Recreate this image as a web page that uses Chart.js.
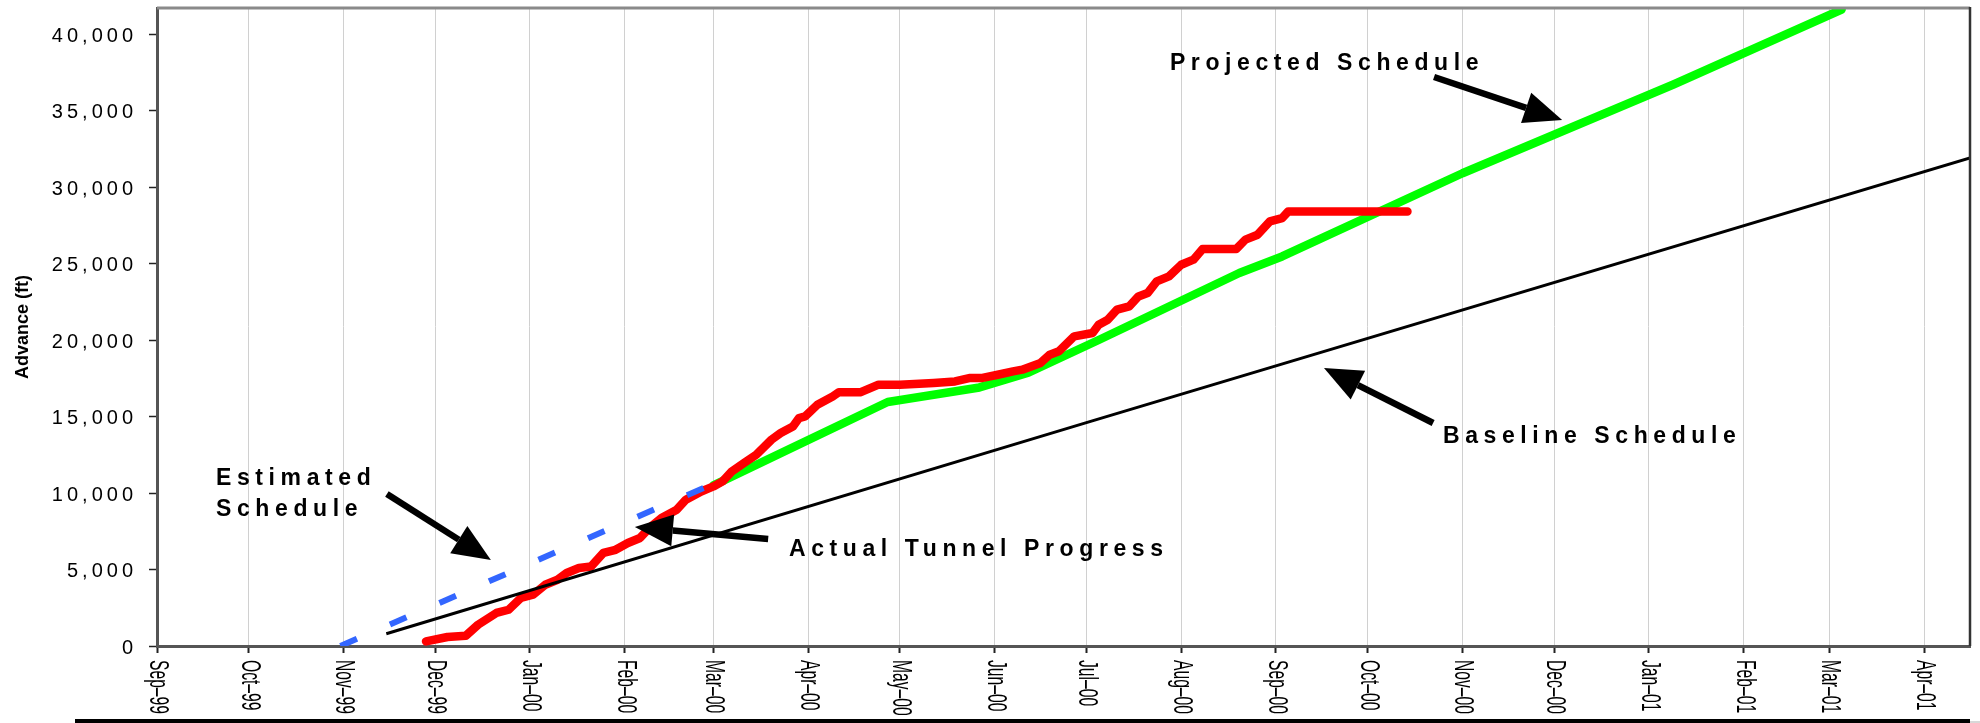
<!DOCTYPE html>
<html>
<head>
<meta charset="utf-8">
<script src="https://cdn.jsdelivr.net/npm/chart.js@4.4.6/dist/chart.umd.min.js"></script>
<style>
    html, body { margin: 0; padding: 0; background: #fff; }
    #graficaAvance { display: block; }
</style>
</head>
<body>
<canvas id="graficaAvance" width="1980" height="723"></canvas>
<script>
// eje x: dias contados desde el 1 de septiembre de 1999
const inicioEje = Date.UTC(1999, 8, 1);
function dias(fecha) {
    const [a, m, d] = fecha.split('-').map(Number);
    return (Date.UTC(a, m - 1, d) - inicioEje) / 86400000;
}

const mesesEtiquetas = ['Sep–99', 'Oct–99', 'Nov–99', 'Dec–99', 'Jan–00', 'Feb–00', 'Mar–00', 'Apr–00', 'May–00', 'Jun–00',
    'Jul–00', 'Aug–00', 'Sep–00', 'Oct–00', 'Nov–00', 'Dec–00', 'Jan–01', 'Feb–01', 'Mar–01', 'Apr–01'];
const mesesFechas = ['1999-09-01', '1999-10-01', '1999-11-01', '1999-12-01', '2000-01-01', '2000-02-01', '2000-03-01',
    '2000-04-01', '2000-05-01', '2000-06-01', '2000-07-01', '2000-08-01', '2000-09-01', '2000-10-01', '2000-11-01',
    '2000-12-01', '2001-01-01', '2001-02-01', '2001-03-01', '2001-04-01'];
const yTicks = [0, 5000, 10000, 15000, 20000, 25000, 30000, 35000, 40000];

// Actual Tunnel Progress
const actualFechas = ['1999-11-28', '1999-12-05', '1999-12-11', '1999-12-15', '1999-12-21', '1999-12-25', '1999-12-29',
    '2000-01-02', '2000-01-06', '2000-01-10', '2000-01-13', '2000-01-17', '2000-01-21', '2000-01-25', '2000-01-29',
    '2000-02-02', '2000-02-06', '2000-02-09', '2000-02-13', '2000-02-18', '2000-02-21', '2000-02-26', '2000-03-01',
    '2000-03-04', '2000-03-07', '2000-03-11', '2000-03-15', '2000-03-20', '2000-03-23', '2000-03-27', '2000-03-29',
    '2000-03-31', '2000-04-04', '2000-04-09', '2000-04-11', '2000-04-18', '2000-04-24', '2000-05-01', '2000-05-12',
    '2000-05-19', '2000-05-24', '2000-05-28', '2000-06-02', '2000-06-07', '2000-06-10', '2000-06-16', '2000-06-19',
    '2000-06-22', '2000-06-27', '2000-07-03', '2000-07-05', '2000-07-08', '2000-07-11', '2000-07-15', '2000-07-18',
    '2000-07-21', '2000-07-24', '2000-07-28', '2000-08-01', '2000-08-05', '2000-08-08', '2000-08-19', '2000-08-22',
    '2000-08-26', '2000-08-30', '2000-09-03', '2000-09-05', '2000-10-14'];
const actualPies = [300, 590, 670, 1390, 2160, 2370, 3140,
    3350, 4000, 4330, 4770, 5100, 5200, 6080, 6290,
    6730, 7060, 7710, 8370, 8910, 9560, 10100, 10430,
    10760, 11410, 11960, 12500, 13490, 13920, 14350, 14900,
    15010, 15770, 16310, 16580, 16580, 17080, 17080, 17190,
    17290, 17520, 17520, 17730, 17950, 18060, 18500, 19040,
    19260, 20240, 20460, 21000, 21330, 21980, 22200, 22850,
    23070, 23830, 24160, 24920, 25250, 25950, 25950, 26560,
    26880, 27750, 27970, 28400, 28400];

// Projected Schedule
const proyectadoFechas = ['2000-03-01', '2000-04-27', '2000-05-27', '2000-06-12', '2000-07-05', '2000-08-20',
    '2000-09-03', '2000-11-01', '2001-01-09', '2001-03-05'];
const proyectadoPies = [10500, 15950, 16900, 17870, 20000, 24380, 25460, 30900, 36700, 41600];

// Estimated Schedule
const estimadoFechas = ['1999-10-31', '2000-02-27'];
const estimadoPies = [0, 10350];

// Baseline Schedule
const baseFechas = ['1999-11-15', '2000-07-01', '2001-04-16'];
const basePies = [800, 14600, 31900];

function puntos(fechas, pies) {
    return fechas.map((f, i) => ({ x: dias(f), y: pies[i] }));
}

// notas con flecha, en coordenadas de datos (dia, pies)
const notas = [
    { lineas: ['Estimated', 'Schedule'], x: 19.3, y: 10520, desde: [75.2, 9935], hasta: [109.2, 5621] },
    { lineas: ['Actual Tunnel Progress'], x: 206.7, y: 5882, desde: [199.9, 6994], hasta: [156.3, 7778] },
    { lineas: ['Baseline Schedule'], x: 420.6, y: 13268, desde: [417.4, 14575], hasta: [381.7, 18170] },
    { lineas: ['Projected Schedule'], x: 331.3, y: 37647, desde: [417.7, 37190], hasta: [459.6, 34380] }
];

document.addEventListener('DOMContentLoaded', function () {

    function dibujarFlecha(ctx, x1, y1, x2, y2) {
        const ang = Math.atan2(y2 - y1, x2 - x1);
        const largo = 38, medio = 16;
        const bx = x2 - largo * Math.cos(ang);
        const by = y2 - largo * Math.sin(ang);
        ctx.lineWidth = 6.5;
        ctx.lineCap = 'butt';
        ctx.beginPath();
        ctx.moveTo(x1, y1);
        ctx.lineTo(bx, by);
        ctx.stroke();
        ctx.beginPath();
        ctx.moveTo(x2, y2);
        ctx.lineTo(bx + medio * Math.sin(ang), by - medio * Math.cos(ang));
        ctx.lineTo(bx - medio * Math.sin(ang), by + medio * Math.cos(ang));
        ctx.closePath();
        ctx.fill();
    }

    const decoracion = {
        id: 'decoracion',
        beforeDraw(chart) {
            chart.ctx.letterSpacing = '4px';
        },
        beforeDatasetsDraw(chart) {
            chart.ctx.letterSpacing = '0px';
        },
        afterDraw(chart) {
            const ctx = chart.ctx;
            const area = chart.chartArea;
            const xs = chart.scales.x;
            const ys = chart.scales.y;
            ctx.save();
            ctx.letterSpacing = '0px';

            // borde superior y derecho
            ctx.strokeStyle = '#8a8a8a';
            ctx.lineWidth = 3;
            ctx.beginPath();
            ctx.moveTo(area.left, area.top);
            ctx.lineTo(area.right, area.top);
            ctx.stroke();
            ctx.strokeStyle = '#333';
            ctx.lineWidth = 2.5;
            ctx.beginPath();
            ctx.moveTo(area.right, area.top - 1);
            ctx.lineTo(area.right, area.bottom);
            ctx.stroke();

            // etiquetas de meses giradas
            ctx.fillStyle = '#000';
            ctx.font = '27px "Liberation Sans", Arial, sans-serif';
            ctx.textAlign = 'left';
            ctx.textBaseline = 'alphabetic';
            mesesFechas.forEach(function (f, i) {
                const px = xs.getPixelForValue(dias(f));
                ctx.save();
                ctx.translate(px - 7, area.bottom + 14);
                ctx.rotate(Math.PI / 2);
                ctx.scale(0.58, 1);
                ctx.fillText(mesesEtiquetas[i], 0, 0);
                ctx.restore();
            });

            // titulo del eje y
            ctx.save();
            ctx.font = 'bold 18px "Liberation Sans", Arial, sans-serif';
            ctx.textAlign = 'center';
            ctx.textBaseline = 'middle';
            ctx.translate(23, (area.top + area.bottom) / 2);
            ctx.rotate(-Math.PI / 2);
            ctx.fillText('Advance (ft)', 0, 0);
            ctx.restore();

            // notas y flechas
            ctx.font = 'bold 23px "Liberation Sans", Arial, sans-serif';
            ctx.letterSpacing = '5.6px';
            ctx.strokeStyle = '#000';
            ctx.fillStyle = '#000';
            notas.forEach(function (n) {
                const tx = xs.getPixelForValue(n.x);
                const ty = ys.getPixelForValue(n.y);
                n.lineas.forEach(function (l, j) {
                    ctx.fillText(l, tx, ty + j * 31);
                });
                dibujarFlecha(ctx,
                    xs.getPixelForValue(n.desde[0]), ys.getPixelForValue(n.desde[1]),
                    xs.getPixelForValue(n.hasta[0]), ys.getPixelForValue(n.hasta[1]));
            });

            // linea inferior de la pagina
            ctx.fillStyle = '#000';
            ctx.fillRect(75, 719, area.right - 75, 4);
            ctx.fillStyle = '#d8d8d8';
            ctx.fillRect(area.right, 721, 1980 - area.right, 2);
            ctx.restore();
        }
    };

    function renderGraficaAvance() {
        const ctx = document.getElementById('graficaAvance').getContext('2d');
        new Chart(ctx, {
            type: 'line',
            data: {
                datasets: [
                    {
                        label: 'Baseline Schedule',
                        data: puntos(baseFechas, basePies),
                        borderColor: '#000000',
                        borderWidth: 3,
                        order: 0
                    },
                    {
                        label: 'Estimated Schedule',
                        data: puntos(estimadoFechas, estimadoPies),
                        borderColor: '#3366ff',
                        borderWidth: 6,
                        borderDash: [18, 36],
                        borderCapStyle: 'butt',
                        order: 1
                    },
                    {
                        label: 'Actual Tunnel Progress',
                        data: puntos(actualFechas, actualPies),
                        borderColor: '#ff0000',
                        borderWidth: 8.5,
                        borderCapStyle: 'round',
                        borderJoinStyle: 'round',
                        order: 2
                    },
                    {
                        label: 'Projected Schedule',
                        data: puntos(proyectadoFechas, proyectadoPies),
                        borderColor: '#00ff00',
                        borderWidth: 8.5,
                        borderCapStyle: 'round',
                        borderJoinStyle: 'round',
                        order: 3
                    }
                ]
            },
            options: {
                responsive: false,
                animation: false,
                parsing: false,
                elements: {
                    point: { radius: 0 },
                    line: { tension: 0, fill: false }
                },
                layout: { padding: { top: 8, right: 10, left: 0, bottom: 0 } },
                plugins: {
                    legend: { display: false },
                    tooltip: { enabled: false }
                },
                scales: {
                    x: {
                        type: 'linear',
                        min: 0,
                        max: 593,
                        afterBuildTicks: function (scale) {
                            scale.ticks = mesesFechas.map(f => ({ value: dias(f) }));
                        },
                        afterFit: function (scale) {
                            scale.height = 77;
                            scale.paddingLeft = 0;
                            scale.paddingRight = 0;
                        },
                        ticks: { display: false, autoSkip: false },
                        grid: {
                            color: '#d0d0d0',
                            lineWidth: 1,
                            drawTicks: true,
                            tickLength: 7,
                            tickColor: '#222',
                            tickWidth: 2
                        },
                        border: { display: true, color: '#555', width: 3 }
                    },
                    y: {
                        type: 'linear',
                        min: 0,
                        max: 41700,
                        afterBuildTicks: function (scale) {
                            scale.ticks = yTicks.map(v => ({ value: v }));
                        },
                        afterFit: function (scale) {
                            scale.width = 157;
                            scale.paddingTop = 0;
                            scale.paddingBottom = 0;
                        },
                        ticks: {
                            color: '#000',
                            padding: 12,
                            labelOffset: 2,
                            font: { family: '"Liberation Sans", Arial, sans-serif', size: 20 },
                            callback: v => v.toLocaleString('en-US')
                        },
                        grid: {
                            drawOnChartArea: false,
                            drawTicks: true,
                            tickLength: 8,
                            tickColor: '#222',
                            tickWidth: 1.5
                        },
                        border: { display: true, color: '#555', width: 3 }
                    }
                }
            },
            plugins: [decoracion]
        });
    }

    renderGraficaAvance();
});
</script>
</body>
</html>
